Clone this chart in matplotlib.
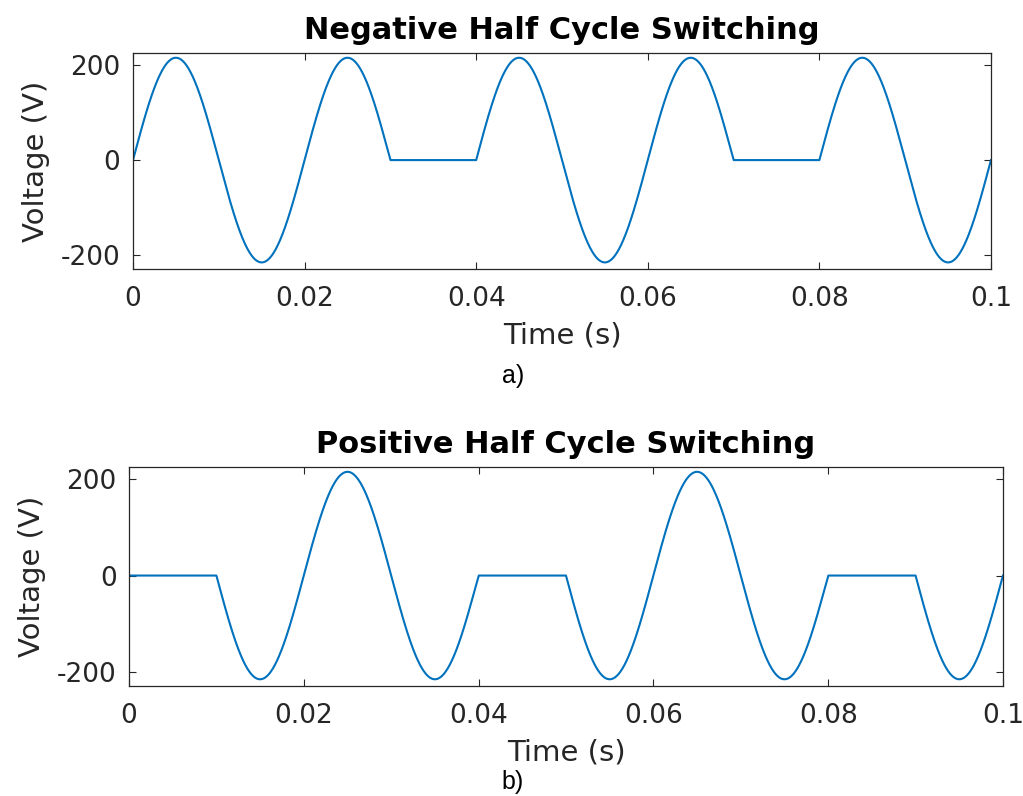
#!/usr/bin/env python3

import matplotlib
matplotlib.use('Agg')
import matplotlib.pyplot as plt
import numpy as np

# mains waveform
FREQ_HZ = 50.0
PEAK_V = 216.0
T_END = 0.1

# intervals (s) where the switch blocks the half cycle
NEG_OFF = [(0.03, 0.04), (0.07, 0.08)]
POS_OFF = [(0.0, 0.01), (0.04, 0.05), (0.08, 0.09)]

TITLES = ['Negative Half Cycle Switching', 'Positive Half Cycle Switching']
CAPTIONS = ['a)', 'b)']
XTICKS = [0, 0.02, 0.04, 0.06, 0.08, 0.1]
XTICKLABELS = ['0', '0.02', '0.04', '0.06', '0.08', '0.1']
YTICKS = [-200, 0, 200]

LINE_COLOR = '#0072BD'
GRAY = '#262626'

plt.rcParams['axes.unicode_minus'] = False


def switched_wave(t, off_intervals):
    v = PEAK_V * np.sin(2 * np.pi * FREQ_HZ * t)
    for a, b in off_intervals:
        v[(t >= a) & (t <= b)] = 0.0
    return v


def style_axes(ax, title):
    ax.set_xlim(0, T_END)
    ax.set_ylim(-230, 226)
    ax.set_xticks(XTICKS)
    ax.set_xticklabels(XTICKLABELS)
    ax.set_yticks(YTICKS)
    ax.tick_params(direction='in', top=True, right=True, length=5,
                   width=0.8, colors=GRAY, labelsize=19)
    ax.tick_params(axis='x', pad=12)
    ax.tick_params(axis='y', pad=9)
    for s in ax.spines.values():
        s.set_color(GRAY)
        s.set_linewidth(0.9)
    ax.set_title(title, fontsize=22, fontweight='bold', pad=10)
    ax.set_xlabel('Time (s)', fontsize=21, color=GRAY, labelpad=7)
    ax.set_ylabel('Voltage (V)', fontsize=21, color=GRAY, labelpad=8)


t = np.linspace(0, T_END, 20001)

fig = plt.figure(figsize=(10.23, 7.96), dpi=100)
ax1 = fig.add_axes([0.130, 0.662, 0.8387, 0.2714])
ax2 = fig.add_axes([0.1261, 0.1382, 0.8543, 0.2751])

for ax, off, title in zip([ax1, ax2], [NEG_OFF, POS_OFF], TITLES):
    ax.plot(t, switched_wave(t, off), color=LINE_COLOR, linewidth=1.5)
    style_axes(ax, title)

fig.text(0.5015, 1 - 376 / 796, CAPTIONS[0], fontsize=18,
         family='Liberation Sans', ha='center', va='center')
fig.text(0.5015, 1 - 782 / 796, CAPTIONS[1], fontsize=18,
         family='Liberation Sans', ha='center', va='center')

fig.savefig('out.png', dpi=100)
